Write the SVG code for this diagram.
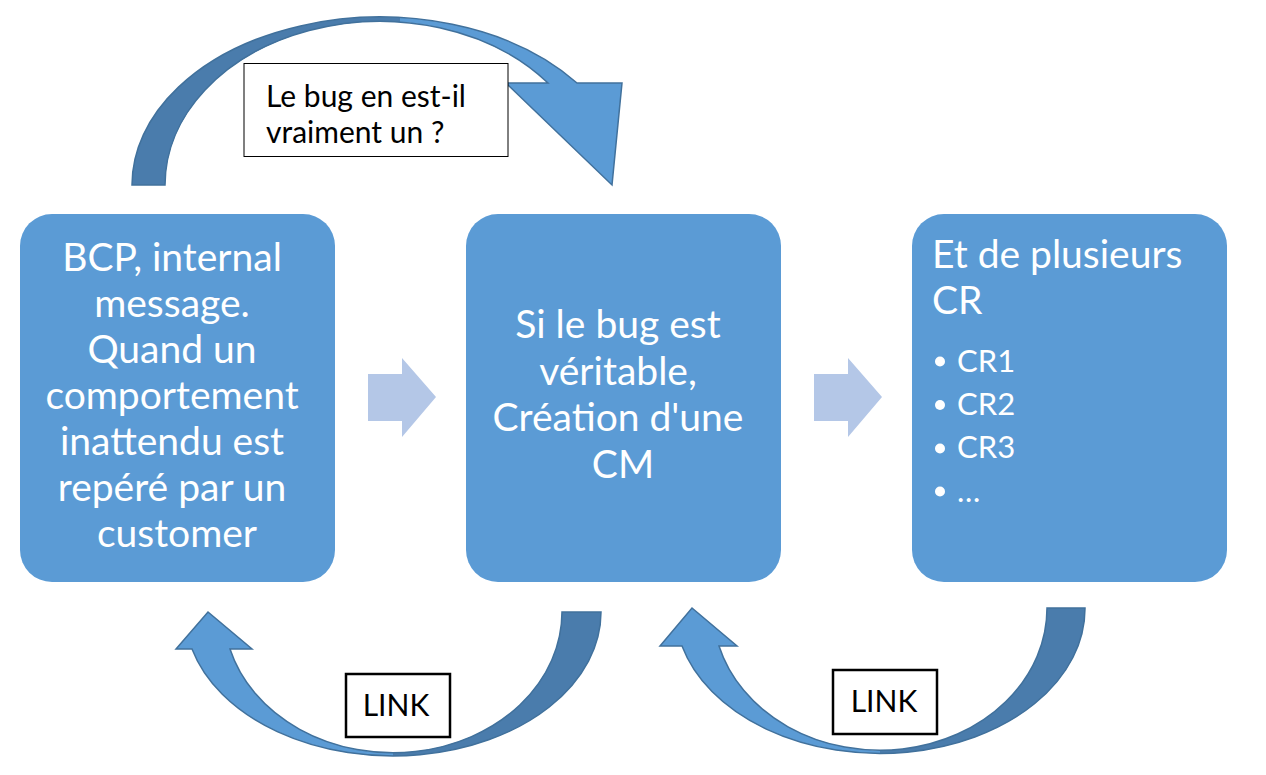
<svg xmlns="http://www.w3.org/2000/svg" width="1266" height="775" viewBox="0 0 1266 775">
<style>
.node{fill:#5B9BD5;}
.nt{font-family:Lato,"Open Sans","Liberation Sans",sans-serif;font-size:39px;fill:#FFFFFF;}
.bt{font-family:Lato,"Open Sans","Liberation Sans",sans-serif;font-size:31px;fill:#FFFFFF;}
.lbl{font-family:Lato,"Open Sans","Liberation Sans",sans-serif;font-size:30px;fill:#000000;}
.light{fill:#5B9BD5;}
.dark{fill:#4A7CAC;}
.outl{fill:none;stroke:#41719C;stroke-width:1.5;stroke-linejoin:miter;}
.flat{fill:#B4C7E7;}
.box{fill:#FFFFFF;stroke:#000000;}
</style>
<defs>
<path id="arcTop" d="M132 185 A248 168 0 0 1 577 83 L622 83 L612 185 L506 83 L548 83 A215 164 0 0 0 165 185 Z"/>
<path id="arcBL" d="M601 612 A208 144 0 0 1 192 649 L176 649 L208 612 L252 649 L230 649 A169 141 0 0 0 562 612 Z"/>
<path id="arcBR" d="M1085 608 A205 145 0 0 1 682 646 L660 646 L692 608 L737 646 L719 646 A167 142 0 0 0 1047 608 Z"/>
<clipPath id="cTop"><rect x="0" y="0" width="400" height="200"/></clipPath>
<clipPath id="cBL"><rect x="393" y="590" width="300" height="200"/></clipPath>
<clipPath id="cBR"><rect x="880" y="590" width="300" height="200"/></clipPath>
</defs>

<g id="connectors">
  <g id="arrow-top">
    <use href="#arcTop" class="light"/>
    <use href="#arcTop" class="dark" clip-path="url(#cTop)"/>
    <use href="#arcTop" class="outl"/>
  </g>
  <g id="arrow-bottom-left">
    <use href="#arcBL" class="light"/>
    <use href="#arcBL" class="dark" clip-path="url(#cBL)"/>
    <use href="#arcBL" class="outl"/>
  </g>
  <g id="arrow-bottom-right">
    <use href="#arcBR" class="light"/>
    <use href="#arcBR" class="dark" clip-path="url(#cBR)"/>
    <use href="#arcBR" class="outl"/>
  </g>
  <polygon id="arrow-1-2" class="flat" points="368,374 402,374 402,358 436,397 402,437 402,421 368,421"/>
  <polygon id="arrow-2-3" class="flat" points="814,374 848,374 848,358 882,397 848,437 848,421 814,421"/>
</g>

<g id="label-top">
  <rect class="box" x="244" y="63.5" width="264" height="93" stroke-width="1"/>
  <text class="lbl" x="266" y="107">Le bug en est-il</text>
  <text class="lbl" x="266" y="143">vraiment un ?</text>
</g>

<g id="label-link-left">
  <rect class="box" x="346" y="674" width="104" height="63" stroke-width="2.5"/>
  <text class="lbl" x="396" y="716" text-anchor="middle">LINK</text>
</g>

<g id="label-link-right">
  <rect class="box" x="833" y="670" width="104" height="64" stroke-width="2.5"/>
  <text class="lbl" x="884" y="712" text-anchor="middle">LINK</text>
</g>

<g id="node-1">
  <rect class="node" x="20" y="214" width="315" height="368" rx="32" ry="32"/>
  <text class="nt" text-anchor="middle">
    <tspan x="177" y="271">BCP, internal</tspan>
    <tspan x="177" y="317">message.</tspan>
    <tspan x="177" y="363">Quand un</tspan>
    <tspan x="177" y="409">comportement</tspan>
    <tspan x="177" y="455">inattendu est</tspan>
    <tspan x="177" y="501">repéré par un</tspan>
    <tspan x="177" y="547">customer</tspan>
  </text>
</g>

<g id="node-2">
  <rect class="node" x="466" y="214" width="315" height="368" rx="32" ry="32"/>
  <text class="nt" text-anchor="middle">
    <tspan x="623" y="338">Si le bug est</tspan>
    <tspan x="623" y="385">véritable,</tspan>
    <tspan x="623" y="431">Création d'une</tspan>
    <tspan x="623" y="478">CM</tspan>
  </text>
</g>

<g id="node-3">
  <rect class="node" x="912" y="214" width="315" height="368" rx="32" ry="32"/>
  <text class="nt">
    <tspan x="932" y="268">Et de plusieurs</tspan>
    <tspan x="932" y="314">CR</tspan>
  </text>
  <g fill="#FFFFFF">
    <circle cx="940" cy="361.5" r="5"/>
    <circle cx="940" cy="405" r="5"/>
    <circle cx="940" cy="448.5" r="5"/>
    <circle cx="940" cy="491.5" r="5"/>
  </g>
  <text class="bt">
    <tspan x="957" y="372">CR1</tspan>
    <tspan x="957" y="415">CR2</tspan>
    <tspan x="957" y="458">CR3</tspan>
    <tspan x="957" y="502">…</tspan>
  </text>
</g>
</svg>
